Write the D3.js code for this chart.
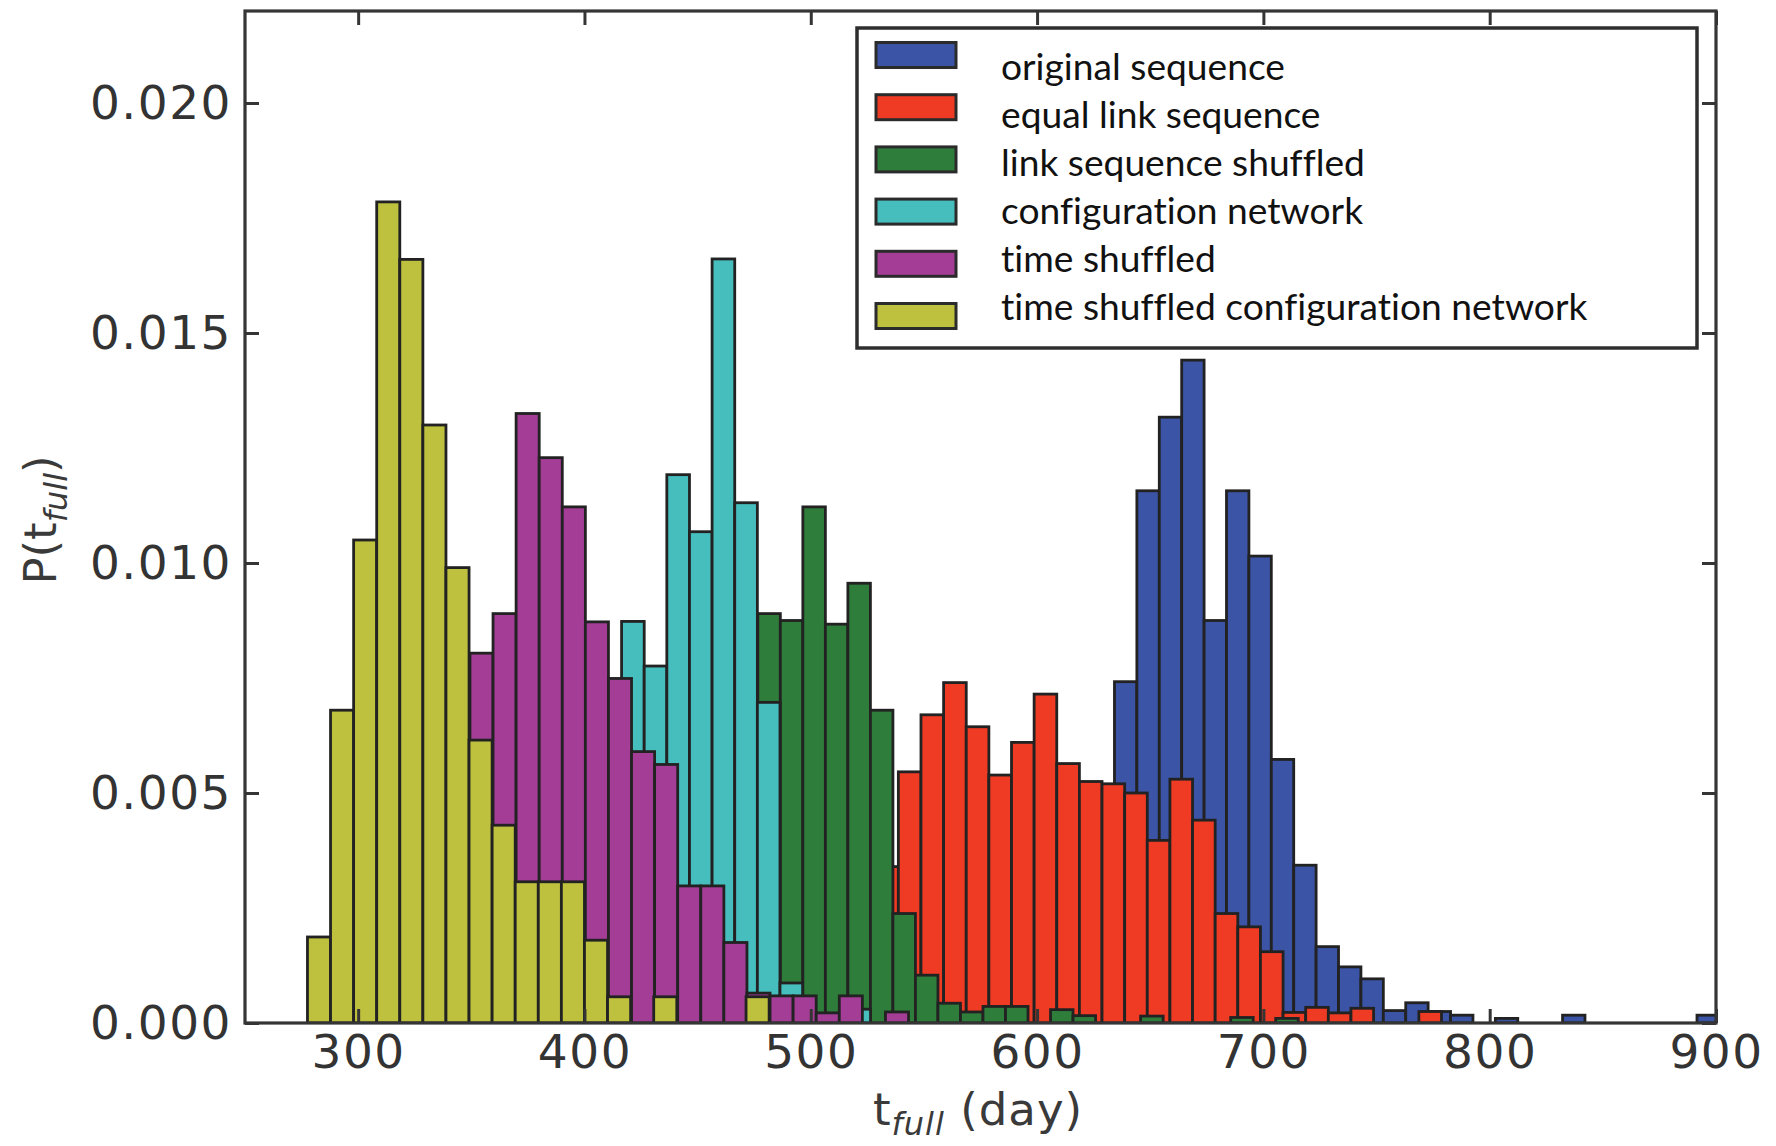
<!DOCTYPE html>
<html><head><meta charset="utf-8">
<script src="https://cdn.jsdelivr.net/npm/d3@7"></script>
<style>html,body{margin:0;padding:0;background:#fff;} svg{display:block;}</style>
</head><body>
<svg id="chart" width="1776" height="1146"></svg>
<script>
// ---------------- DATA ----------------
const seriesNames = ["original sequence", "equal link sequence", "link sequence shuffled",
  "configuration network", "time shuffled", "time shuffled configuration network"];
const xTickValues = [300, 400, 500, 600, 700, 800, 900];
const yTickValues = [0.000, 0.005, 0.010, 0.015, 0.020];
const xDomain = [250, 900];
const yDomain = [0, 0.022];

// histogram bins: first bin edge (days), bin width (days), densities
const originalStart = 624.3, originalWidth = 9.9;
const originalValues = [0.0005, 0.00742, 0.01157, 0.01317, 0.01441, 0.00875, 0.01157, 0.01015,
  0.00573, 0.00343, 0.00166, 0.00122, 0.00096, 0.00027, 0.00044, 0.00025, 0.00017, 0, 0.0001,
  0, 0, 0.00017, 0, 0, 0, 0, 0, 0.00017];

const equalLinkStart = 528.7, equalLinkWidth = 10.0;
const equalLinkValues = [0.0034, 0.00546, 0.0067, 0.0074, 0.00644, 0.00539, 0.0061, 0.00715,
  0.00564, 0.00525, 0.0052, 0.0050, 0.00397, 0.0053, 0.00441, 0.00238, 0.00209, 0.00155,
  0.00023, 0.00034, 0.00022, 0.00032, 0, 0, 0.00025];

const linkShuffledStart = 476.6, linkShuffledWidth = 9.95;
const linkShuffledValues = [0.0089, 0.00875, 0.01122, 0.00867, 0.00956, 0.0068, 0.00238, 0.00104,
  0.00043, 0.00024, 0.00036, 0.00036, 0, 0.00029, 0.00016, 0, 0, 0.00015, 0, 0, 0, 0.00012, 0, 0.0001];

const configStart = 416.4, configWidth = 10.0;
const configValues = [0.00873, 0.00776, 0.01192, 0.01068, 0.01661, 0.01131, 0.00697, 0.00087, 0, 0, 0.0003];

const timeShuffledStart = 349.4, timeShuffledWidth = 10.2;
const timeShuffledValues = [0.00804, 0.0089, 0.01325, 0.01229, 0.01122, 0.00872, 0.00749, 0.0059,
  0.00562, 0.00298, 0.00298, 0.00175, 0.00065, 0.00059, 0.00059, 0.00022, 0.00059, 0, 0.00024];

const timeConfigStart = 277.6, timeConfigWidth = 10.2;
const timeConfigValues = [0.00187, 0.0068, 0.0105, 0.01785, 0.0166, 0.0130, 0.0099, 0.00615, 0.0043,
  0.00307, 0.00307, 0.00307, 0.0018, 0.00057, 0, 0.00057, 0, 0, 0, 0.00057];

// ---------------- STYLE ----------------
const seriesColors = ["#3b54a5", "#ef3b24", "#2e7d3b", "#47bebe", "#a33d96", "#bec13e"];

const series = [
  {name: seriesNames[0], start: originalStart, width: originalWidth, values: originalValues},
  {name: seriesNames[1], start: equalLinkStart, width: equalLinkWidth, values: equalLinkValues},
  {name: seriesNames[2], start: linkShuffledStart, width: linkShuffledWidth, values: linkShuffledValues},
  {name: seriesNames[3], start: configStart, width: configWidth, values: configValues},
  {name: seriesNames[4], start: timeShuffledStart, width: timeShuffledWidth, values: timeShuffledValues},
  {name: seriesNames[5], start: timeConfigStart, width: timeConfigWidth, values: timeConfigValues}
];

const plot = {left: 245, right: 1716, top: 11, bottom: 1023};
const svg = d3.select("#chart");

const x = d3.scaleLinear().domain(xDomain).range([plot.left, plot.right]);
const y = d3.scaleLinear().domain(yDomain).range([plot.bottom, plot.top]);

svg.append("defs").append("clipPath").attr("id", "plotclip")
  .append("rect").attr("x", plot.left).attr("y", plot.top)
  .attr("width", plot.right - plot.left).attr("height", plot.bottom - plot.top);

const barsG = svg.append("g").attr("clip-path", "url(#plotclip)");
series.forEach((s, si) => {
  const bins = s.values.map((v, i) => ({x0: s.start + i * s.width, x1: s.start + (i + 1) * s.width, v}))
    .filter(d => d.v > 0);
  barsG.append("g").selectAll("rect").data(bins).join("rect")
    .attr("x", d => x(d.x0))
    .attr("width", d => x(d.x1) - x(d.x0))
    .attr("y", d => y(d.v))
    .attr("height", d => y(0) - y(d.v))
    .attr("fill", seriesColors[si])
    .attr("stroke", "#222")
    .attr("stroke-width", 2.8);
});

const axisColor = "#353535";
const tickFont = "'DejaVu Sans', sans-serif";

function styleAxis(g) {
  g.select(".domain").remove();
  g.selectAll(".tick line").attr("stroke", axisColor).attr("stroke-width", 3);
  g.selectAll(".tick text").attr("fill", "#333").style("font-family", tickFont)
    .style("font-size", "47px").style("letter-spacing", "1.5px");
}

svg.append("g").attr("transform", `translate(0,${plot.bottom})`)
  .call(d3.axisBottom(x).tickValues(xTickValues).tickSize(-14).tickSizeOuter(0).tickPadding(12).tickFormat(d3.format("d")))
  .call(styleAxis);
svg.append("g").attr("transform", `translate(0,${plot.top})`)
  .call(d3.axisTop(x).tickValues(xTickValues).tickSize(-14).tickSizeOuter(0).tickFormat(""))
  .call(styleAxis);
svg.append("g").attr("transform", `translate(${plot.left},0)`)
  .call(d3.axisLeft(y).tickValues(yTickValues).tickSize(-14).tickSizeOuter(0).tickPadding(13).tickFormat(d3.format(".3f")))
  .call(styleAxis);
svg.append("g").attr("transform", `translate(${plot.right},0)`)
  .call(d3.axisRight(y).tickValues(yTickValues).tickSize(-14).tickSizeOuter(0).tickFormat(""))
  .call(styleAxis);

// frame
svg.append("rect").attr("x", plot.left).attr("y", plot.top)
  .attr("width", plot.right - plot.left).attr("height", plot.bottom - plot.top)
  .attr("fill", "none").attr("stroke", axisColor).attr("stroke-width", 3.2);

// axis labels
const xl = svg.append("text").attr("x", 978).attr("y", 1125).attr("text-anchor", "middle")
  .style("font-family", tickFont).style("font-size", "45px").style("letter-spacing", "1px").attr("fill", "#3a3a3a");
xl.append("tspan").text("t");
xl.append("tspan").text("full").style("font-style", "italic").style("font-size", "32px").attr("dy", 10);
xl.append("tspan").text(" (day)").attr("dy", -10);

const yl = svg.append("text").attr("transform", "translate(56,520) rotate(-90)").attr("text-anchor", "middle")
  .style("font-family", tickFont).style("font-size", "45px").attr("fill", "#3a3a3a");
yl.append("tspan").text("P(t");
yl.append("tspan").text("full").style("font-style", "italic").style("font-size", "32px").attr("dy", 11);
yl.append("tspan").text(")").attr("dy", -11);

// legend
const lg = svg.append("g");
lg.append("rect").attr("x", 857).attr("y", 28).attr("width", 840).attr("height", 320)
  .attr("fill", "#fff").attr("stroke", "#2e2e2e").attr("stroke-width", 3.5);
const legendTexts = [];
seriesNames.forEach((name, i) => {
  lg.append("rect").attr("x", 876).attr("y", 55 + i * 52.2 - 12.5).attr("width", 80).attr("height", 25)
    .attr("fill", seriesColors[i]).attr("stroke", "#2b2b2b").attr("stroke-width", 3);
  const t = lg.append("text").attr("x", 1001).attr("y", 80 + i * 48).text(name)
    .style("font-family", "Lato, 'Open Sans', sans-serif").style("font-size", "36px")
    .style("font-variant-ligatures", "none").attr("fill", "#111");
  legendTexts.push(t);
});
// match the narrow legend face width
const w0 = legendTexts[0].node().getComputedTextLength();
const k = 284 / w0;
legendTexts.forEach(t => {
  const w = t.node().getComputedTextLength();
  t.attr("textLength", w * k).attr("lengthAdjust", "spacingAndGlyphs");
});
</script>
</body></html>
